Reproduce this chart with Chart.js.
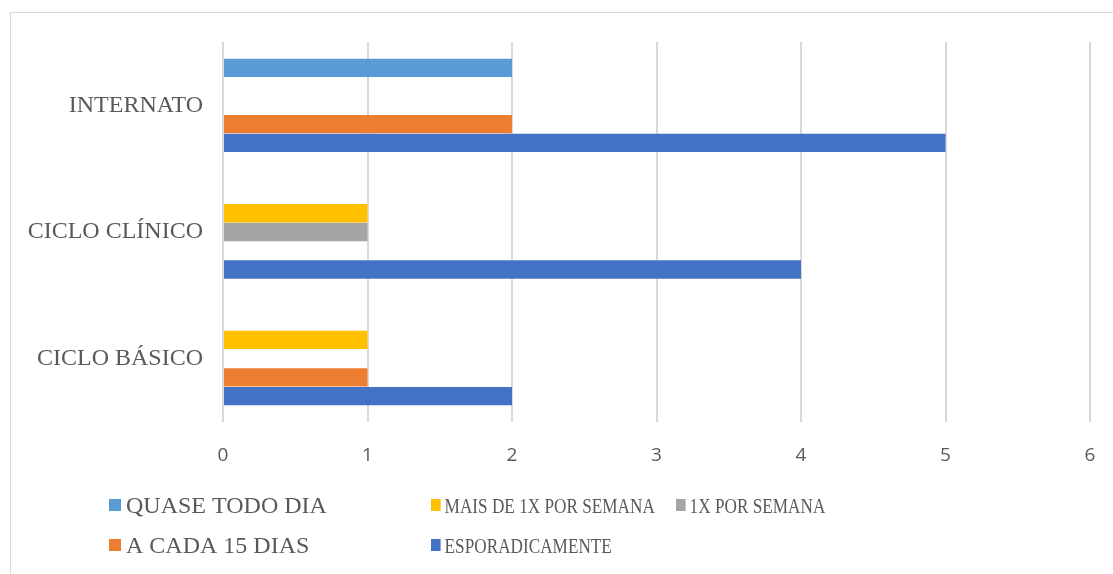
<!DOCTYPE html>
<html>
<head>
<meta charset="utf-8">
<script src="https://cdn.jsdelivr.net/npm/chart.js@4.4.1/dist/chart.umd.min.js"></script>
<style>
    html, body { margin: 0; padding: 0; background: #fff; overflow: hidden; }
    #frame { position: absolute; left: 10px; top: 12px; width: 1300px; height: 800px; border: 1px solid #d9d9d9; }
    #myChart { position: absolute; left: 0; top: 0; }
</style>
</head>
<body>
<div id="frame"></div>
<canvas id="myChart" width="1113" height="574"></canvas>
<script>
    // categorias (de cima para baixo)
    const categorias = ['INTERNATO', 'CICLO CLÍNICO', 'CICLO BÁSICO'];

    // frequência por categoria
    const quaseTodoDia = [2, 0, 0];
    const maisDe1xSemana = [0, 1, 1];
    const umaVezSemana = [0, 1, 0];
    const aCada15Dias = [2, 0, 1];
    const esporadicamente = [5, 4, 2];

    const xMin = 0;
    const xMax = 6;

    const cinza = '#595959';

    // legenda em duas linhas, colunas alinhadas
    const legendaColunas = [109, 431, 676];
    const legendaLinhas = [513, 553];
    const legendaFonte = [24, 21.5, 21.5];
    const legendaEscala = [1, 0.8, 0.8];

    const legendaPlugin = {
        id: 'legendaPlugin',
        afterDraw: function (chart) {
            var c = chart.ctx;
            var ds = chart.data.datasets;
            c.save();
            c.textBaseline = 'alphabetic';
            c.textAlign = 'left';
            for (var i = 0; i < ds.length; i++) {
                var col = i % 3;
                var row = Math.floor(i / 3);
                c.save();
                c.translate(legendaColunas[col], legendaLinhas[row]);
                c.scale(legendaEscala[col], 1);
                c.font = legendaFonte[col] + 'px "Liberation Serif", "Times New Roman", serif';
                c.fillStyle = ds[i].backgroundColor;
                c.fillRect(0, -14, 12, 12);
                c.fillStyle = cinza;
                c.fillText(ds[i].label, 17, 0);
                c.restore();
            }
            c.restore();
        }
    };

    const ctx = document.getElementById('myChart');
    var chart = new Chart(ctx, {
        type: 'bar',
        data: {
            labels: categorias,
            datasets: [
                { label: 'QUASE TODO DIA', data: quaseTodoDia, backgroundColor: '#5B9BD5' },
                { label: 'MAIS DE 1X POR SEMANA', data: maisDe1xSemana, backgroundColor: '#FFC000' },
                { label: '1X POR SEMANA', data: umaVezSemana, backgroundColor: '#A5A5A5' },
                { label: 'A CADA 15 DIAS', data: aCada15Dias, backgroundColor: '#ED7D31' },
                { label: 'ESPORADICAMENTE', data: esporadicamente, backgroundColor: '#4472C4' }
            ]
        },
        options: {
            indexAxis: 'y',
            responsive: false,
            animation: false,
            devicePixelRatio: 1,
            categoryPercentage: 0.74,
            barPercentage: 0.98,
            layout: {
                padding: { left: 0, top: 42, right: 23, bottom: 94 }
            },
            plugins: {
                legend: { display: false },
                tooltip: { enabled: false }
            },
            scales: {
                x: {
                    min: xMin,
                    max: xMax,
                    grid: { color: '#d9d9d9', lineWidth: 2, drawTicks: false },
                    border: { display: false },
                    ticks: {
                        stepSize: 1,
                        padding: 22,
                        color: cinza,
                        font: { family: '"Open Sans", sans-serif', size: 19 }
                    },
                    afterFit: function (scale) {
                        scale.height = 58;
                        // o padding dos rótulos não deve encolher a área do gráfico
                        scale.paddingLeft = 0;
                        scale.paddingRight = 0;
                    }
                },
                y: {
                    grid: { display: false, drawTicks: false },
                    border: { display: false },
                    ticks: {
                        padding: 20,
                        color: cinza,
                        font: { family: '"Liberation Serif", "Times New Roman", serif', size: 24 }
                    },
                    afterFit: function (scale) {
                        scale.width = 223;
                    }
                }
            }
        },
        plugins: [legendaPlugin]
    });
</script>
</body>
</html>
